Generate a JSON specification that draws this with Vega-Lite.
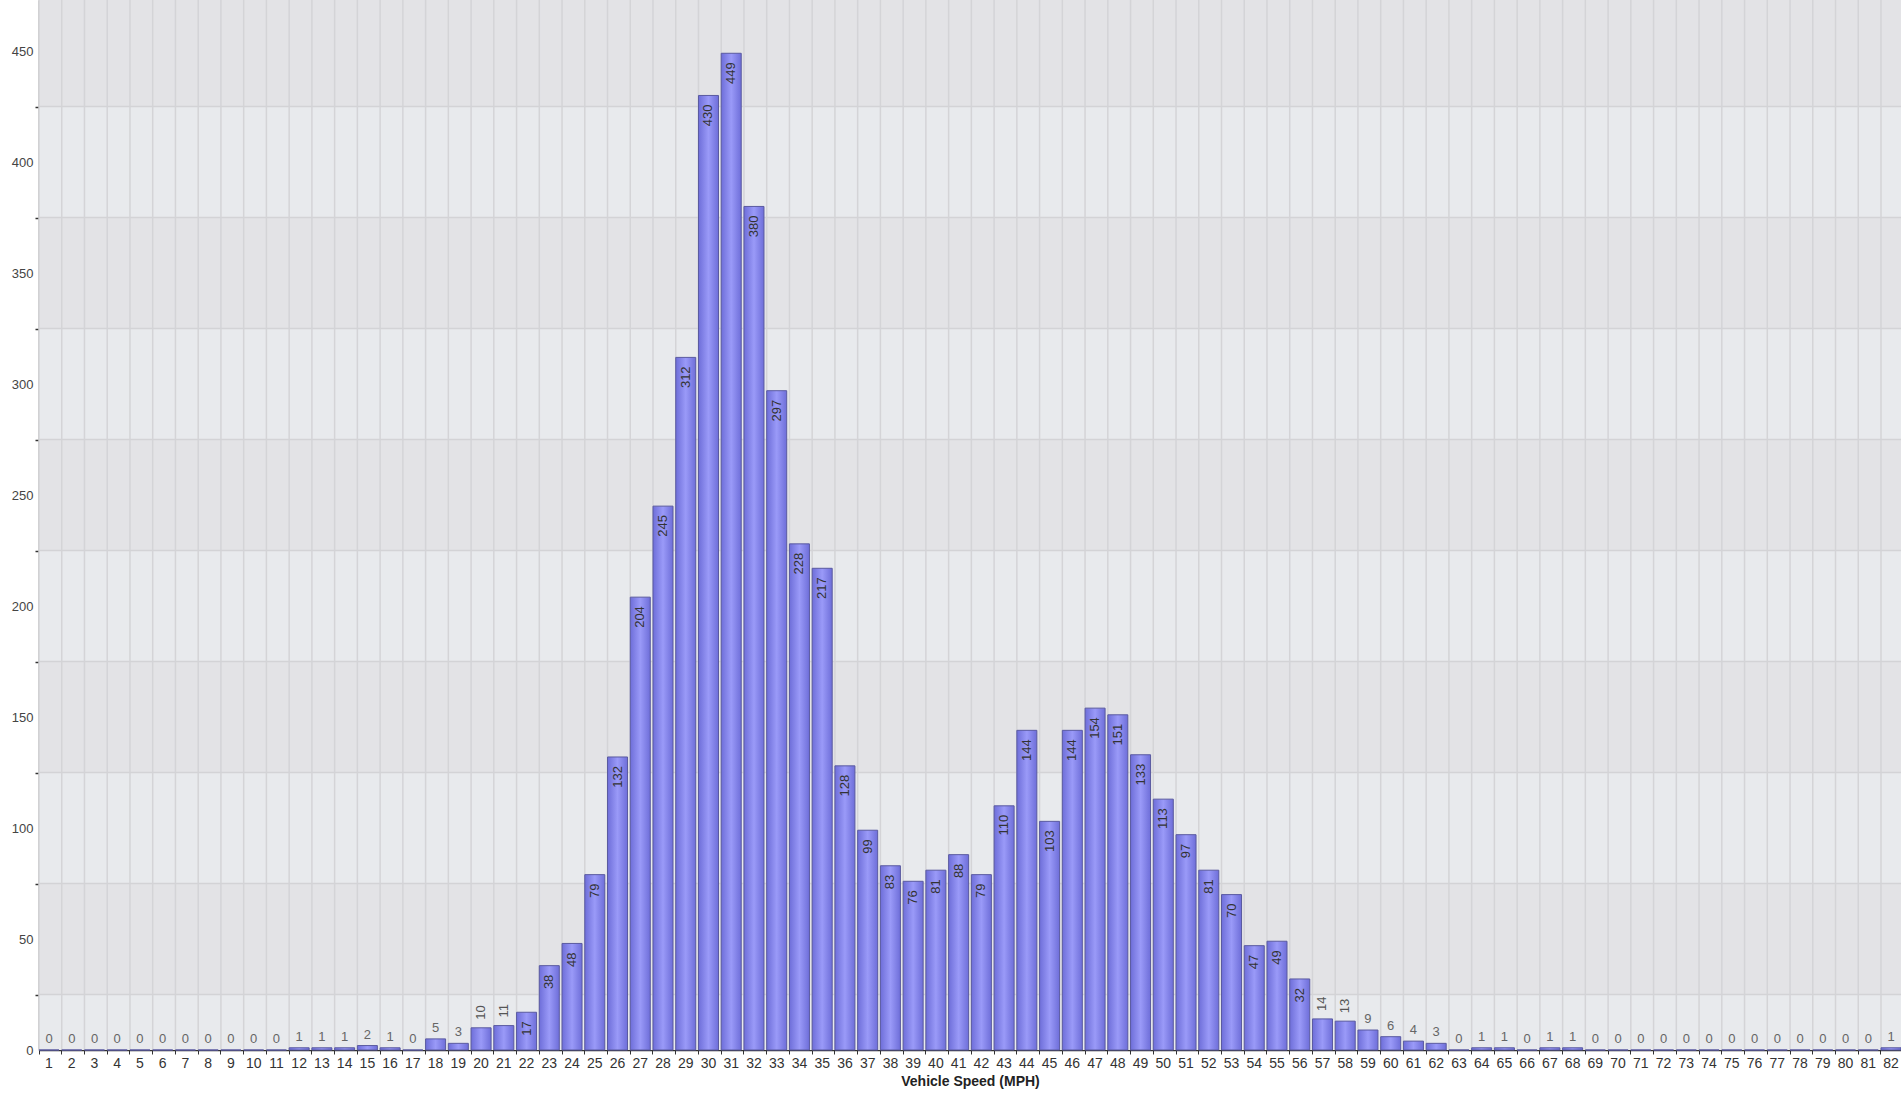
{
  "$schema": "https://vega.github.io/schema/vega-lite/v6.json",
  "width": 1862,
  "height": 1050,
  "autosize": {"type": "none"},
  "padding": {"left": 39, "top": 0, "right": 0, "bottom": 44},
  "background": "white",
  "config": {"view": {"stroke": null}, "font": "Liberation Sans"},
  "datasets": {
    "speeds": [
      {"speed": 1, "count": 0}, {"speed": 2, "count": 0}, {"speed": 3, "count": 0}, {"speed": 4, "count": 0},
      {"speed": 5, "count": 0}, {"speed": 6, "count": 0}, {"speed": 7, "count": 0}, {"speed": 8, "count": 0},
      {"speed": 9, "count": 0}, {"speed": 10, "count": 0}, {"speed": 11, "count": 0}, {"speed": 12, "count": 1},
      {"speed": 13, "count": 1}, {"speed": 14, "count": 1}, {"speed": 15, "count": 2}, {"speed": 16, "count": 1},
      {"speed": 17, "count": 0}, {"speed": 18, "count": 5}, {"speed": 19, "count": 3}, {"speed": 20, "count": 10},
      {"speed": 21, "count": 11}, {"speed": 22, "count": 17}, {"speed": 23, "count": 38}, {"speed": 24, "count": 48},
      {"speed": 25, "count": 79}, {"speed": 26, "count": 132}, {"speed": 27, "count": 204}, {"speed": 28, "count": 245},
      {"speed": 29, "count": 312}, {"speed": 30, "count": 430}, {"speed": 31, "count": 449}, {"speed": 32, "count": 380},
      {"speed": 33, "count": 297}, {"speed": 34, "count": 228}, {"speed": 35, "count": 217}, {"speed": 36, "count": 128},
      {"speed": 37, "count": 99}, {"speed": 38, "count": 83}, {"speed": 39, "count": 76}, {"speed": 40, "count": 81},
      {"speed": 41, "count": 88}, {"speed": 42, "count": 79}, {"speed": 43, "count": 110}, {"speed": 44, "count": 144},
      {"speed": 45, "count": 103}, {"speed": 46, "count": 144}, {"speed": 47, "count": 154}, {"speed": 48, "count": 151},
      {"speed": 49, "count": 133}, {"speed": 50, "count": 113}, {"speed": 51, "count": 97}, {"speed": 52, "count": 81},
      {"speed": 53, "count": 70}, {"speed": 54, "count": 47}, {"speed": 55, "count": 49}, {"speed": 56, "count": 32},
      {"speed": 57, "count": 14}, {"speed": 58, "count": 13}, {"speed": 59, "count": 9}, {"speed": 60, "count": 6},
      {"speed": 61, "count": 4}, {"speed": 62, "count": 3}, {"speed": 63, "count": 0}, {"speed": 64, "count": 1},
      {"speed": 65, "count": 1}, {"speed": 66, "count": 0}, {"speed": 67, "count": 1}, {"speed": 68, "count": 1},
      {"speed": 69, "count": 0}, {"speed": 70, "count": 0}, {"speed": 71, "count": 0}, {"speed": 72, "count": 0},
      {"speed": 73, "count": 0}, {"speed": 74, "count": 0}, {"speed": 75, "count": 0}, {"speed": 76, "count": 0},
      {"speed": 77, "count": 0}, {"speed": 78, "count": 0}, {"speed": 79, "count": 0}, {"speed": 80, "count": 0},
      {"speed": 81, "count": 0}, {"speed": 82, "count": 1}
    ],
    "bands": [
      {"y0": 0, "y1": 25, "tone": "light"},
      {"y0": 25, "y1": 75, "tone": "dark"},
      {"y0": 75, "y1": 125, "tone": "light"},
      {"y0": 125, "y1": 175, "tone": "dark"},
      {"y0": 175, "y1": 225, "tone": "light"},
      {"y0": 225, "y1": 275, "tone": "dark"},
      {"y0": 275, "y1": 325, "tone": "light"},
      {"y0": 325, "y1": 375, "tone": "dark"},
      {"y0": 375, "y1": 425, "tone": "light"},
      {"y0": 425, "y1": 473, "tone": "dark"}
    ]
  },
  "layer": [
    {
      "data": {"name": "bands"},
      "mark": {"type": "rect"},
      "encoding": {
        "y": {"field": "y0", "type": "quantitative", "axis": null, "scale": {"domain": [0, 473], "nice": false, "zero": true}},
        "y2": {"field": "y1"},
        "fill": {"field": "tone", "type": "nominal", "legend": null, "scale": {"domain": ["light", "dark"], "range": ["#e8eaed", "#e3e3e6"]}}
      }
    },
    {
      "data": {"name": "speeds"},
      "mark": {"type": "rule", "stroke": "#d4d4d7", "strokeWidth": 1.5},
      "encoding": {
        "x": {"field": "speed", "type": "ordinal", "bandPosition": 0,
          "scale": {"type": "band", "paddingInner": 0.12, "paddingOuter": 0},
          "axis": {"bandPosition": 0, "labelAngle": 0, "labelFontSize": 14, "labelColor": "#333333", "labelPadding": 2,
            "ticks": true, "tickSize": 4, "tickColor": "#333333", "grid": false, "domain": true, "domainColor": "#333333", "domainWidth": 1.5,
            "title": "Vehicle Speed (MPH)", "titleFontSize": 14, "titleFontWeight": "bold", "titleColor": "#222222", "titlePadding": 4}}
      }
    },
    {
      "data": {"name": "bands"},
      "transform": [{"filter": "datum.y0 > 0"}],
      "mark": {"type": "rule", "stroke": "#d3d3d6", "strokeWidth": 1.5},
      "encoding": {
        "y": {"field": "y0", "type": "quantitative",
          "axis": {"orient": "left", "values": [25, 75, 125, 175, 225, 275, 325, 375, 425], "labels": false, "ticks": true, "tickSize": 4, "tickColor": "#333333", "tickWidth": 1.5, "grid": false, "domain": false, "title": null}}
      }
    },
    {
      "data": {"name": "speeds"},
      "mark": {
        "type": "bar",
        "fill": {"gradient": "linear", "x1": 0, "x2": 1, "y1": 0, "y2": 0,
          "stops": [{"offset": 0, "color": "#6e6ed9"}, {"offset": 0.5, "color": "#9a9af8"}, {"offset": 1, "color": "#6e6ed9"}]},
        "stroke": "#5a5aa0",
        "strokeWidth": 1
      },
      "encoding": {
        "x": {"field": "speed", "type": "ordinal"},
        "y": {"field": "count", "type": "quantitative",
          "axis": {"orient": "left", "values": [0, 50, 100, 150, 200, 250, 300, 350, 400, 450], "ticks": false, "grid": false,
            "domain": true, "domainColor": "#222222", "domainWidth": 1.5, "labelFontSize": 13, "labelColor": "#444444", "labelPadding": 6, "title": null}}
      }
    },
    {
      "data": {"name": "speeds"},
      "transform": [{"filter": "datum.count >= 15"}],
      "mark": {"type": "text", "angle": 270, "align": "right", "baseline": "middle", "yOffset": 9, "fontSize": 13, "color": "#333333"},
      "encoding": {
        "x": {"field": "speed", "type": "ordinal"},
        "y": {"field": "count", "type": "quantitative", "axis": null},
        "text": {"field": "count", "type": "quantitative"}
      }
    },
    {
      "data": {"name": "speeds"},
      "transform": [{"filter": "datum.count >= 10 && datum.count < 15"}],
      "mark": {"type": "text", "angle": 270, "align": "left", "baseline": "middle", "yOffset": -8, "fontSize": 13, "color": "#555555"},
      "encoding": {
        "x": {"field": "speed", "type": "ordinal"},
        "y": {"field": "count", "type": "quantitative", "axis": null},
        "text": {"field": "count", "type": "quantitative"}
      }
    },
    {
      "data": {"name": "speeds"},
      "transform": [{"filter": "datum.count < 10"}],
      "mark": {"type": "text", "align": "center", "baseline": "bottom", "yOffset": -4, "fontSize": 13, "color": "#666666"},
      "encoding": {
        "x": {"field": "speed", "type": "ordinal"},
        "y": {"field": "count", "type": "quantitative", "axis": null},
        "text": {"field": "count", "type": "quantitative"}
      }
    }
  ],
  "resolve": {"axis": {"y": "independent"}}
}
